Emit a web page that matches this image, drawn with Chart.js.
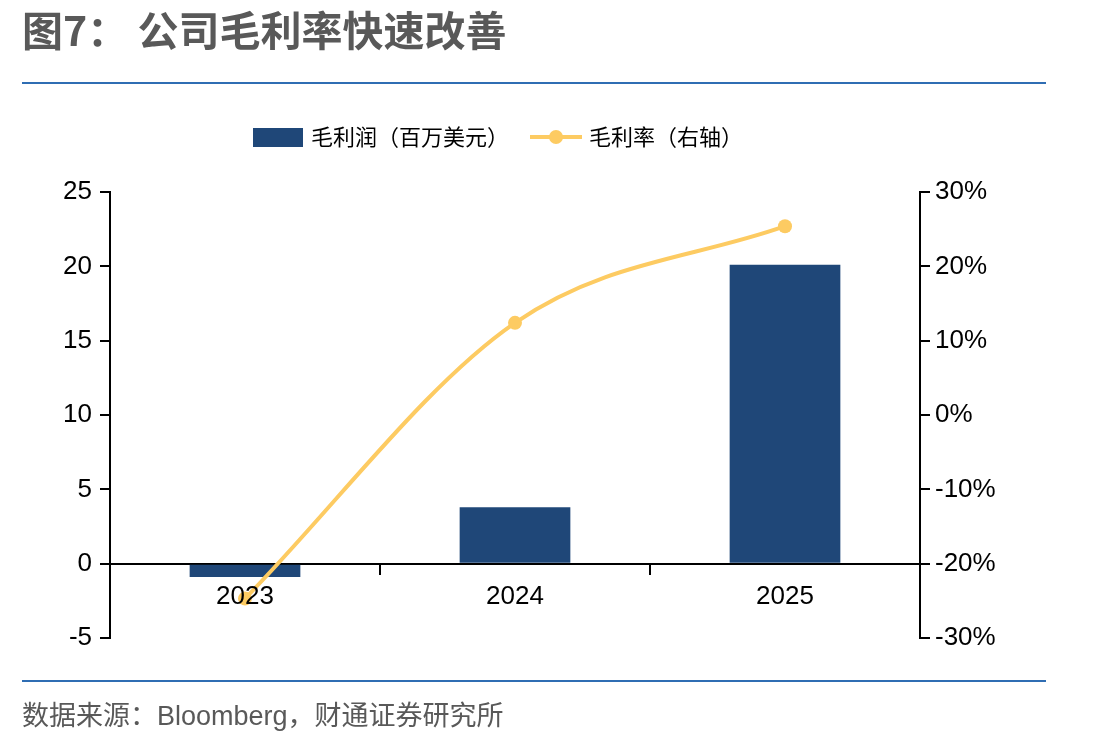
<!DOCTYPE html>
<html>
<head>
<meta charset="utf-8">
<script src="https://cdn.jsdelivr.net/npm/chart.js@4.4.1/dist/chart.umd.min.js"></script>
<style>
  html, body { margin: 0; padding: 0; background: #fff; }
  body { width: 1096px; height: 748px; position: relative; overflow: hidden; font-family: "Noto Sans CJK SC", sans-serif; }
  #title { position: absolute; left: 22px; top: 0; font-size: 41px; font-weight: bold; color: #595959; line-height: 56px; white-space: pre; }
  .rule { position: absolute; left: 22px; width: 1024px; height: 2px; background: #2F6DB3; }
  #src { position: absolute; left: 22px; top: 699px; font-family: "Liberation Sans", "Noto Sans CJK SC", sans-serif; font-size: 27px; color: #595959; line-height: 34px; white-space: pre; }
  #op { position: absolute; left: 0; top: 0; }
</style>
</head>
<body>
<canvas id="op" width="1096" height="748"></canvas>
<div id="title">图7： 公司毛利率快速改善</div>
<div class="rule" style="top:82px"></div>
<div class="rule" style="top:680px"></div>
<div id="src">数据来源：Bloomberg，财通证券研究所</div>
<script>
const years = ['2023', '2024', '2025']
const grossProfit = [-0.9, 3.8, 20.1]      // 毛利润（百万美元）
const grossMargin = [-24.7, 12.4, 25.4]    // 毛利率（右轴）, %
const leftTicks = [-5, 25, 5]              // min, max, step
const rightTicks = [-30, 30, 10]

const barColor = '#1F4778'
const lineColor = '#FDCB62'
const tickFont = { family: 'Liberation Sans', size: 26 }

// legend swatches
function barSwatch() {
  const c = document.createElement('canvas')
  c.width = 50; c.height = 19
  const x = c.getContext('2d')
  x.fillStyle = barColor
  x.fillRect(0, 0, 50, 19)
  return c
}
function lineSwatch() {
  const c = document.createElement('canvas')
  c.width = 52; c.height = 16
  const x = c.getContext('2d')
  x.strokeStyle = lineColor; x.lineWidth = 4
  x.beginPath(); x.moveTo(0, 8); x.lineTo(52, 8); x.stroke()
  x.fillStyle = lineColor
  x.beginPath(); x.arc(26, 8, 7, 0, Math.PI * 2); x.fill()
  return c
}
const swatches = [barSwatch(), lineSwatch()]

const legendGap = {
  id: 'legendGap',
  beforeInit(chart) {
    const fit = chart.legend.fit
    chart.legend.fit = function () { fit.call(this); this.height += 34 }
  }
}

new Chart(
  document.getElementById('op'),
  {
    data: {
      labels: years,
      datasets: [{
        type: 'bar',
        label: '毛利润（百万美元）',
        data: grossProfit,
        backgroundColor: barColor,
        yAxisID: 'y',
        order: 1,
        categoryPercentage: 1,
        barPercentage: 0.41
      }, {
        type: 'line',
        label: '毛利率（右轴）',
        data: grossMargin,
        borderColor: lineColor,
        backgroundColor: lineColor,
        borderWidth: 4,
        pointRadius: 7,
        pointBorderWidth: 0,
        cubicInterpolationMode: 'monotone',
        yAxisID: 'y1',
        order: 0
      }]
    },
    options: {
      responsive: false,
      animation: false,
      layout: { padding: { top: 101, left: 0, right: 97, bottom: 110 } },
      plugins: {
        tooltip: { enabled: false },
        legend: {
          position: 'top',
          labels: {
            usePointStyle: true,
            pointStyleWidth: 44,
            boxHeight: 19,
            padding: 25,
            color: '#000',
            font: { family: 'Noto Sans CJK SC', size: 22 },
            generateLabels: (chart) => chart.data.datasets.map((ds, i) => ({
              text: ds.label,
              pointStyle: swatches[i],
              fillStyle: ds.backgroundColor,
              strokeStyle: ds.backgroundColor,
              lineWidth: 0,
              hidden: false,
              datasetIndex: i
            }))
          }
        }
      },
      scales: {
        x: {
          position: { y: 0 },
          offset: true,
          grid: { offset: true, drawOnChartArea: false, drawTicks: true, tickLength: 10, color: '#000', lineWidth: 2 },
          border: { display: true, color: '#000', width: 2 },
          ticks: { color: '#000', font: tickFont, padding: 8, z: 1 }
        },
        y: {
          position: 'left',
          min: leftTicks[0], max: leftTicks[1],
          afterFit: (s) => { s.width = 110 },
          grid: { drawOnChartArea: false, tickLength: 10, color: '#000', lineWidth: 2 },
          border: { display: true, color: '#000', width: 2 },
          ticks: { stepSize: leftTicks[2], color: '#000', font: tickFont, padding: 8 }
        },
        y1: {
          position: 'right',
          min: rightTicks[0], max: rightTicks[1],
          afterFit: (s) => { s.width = 79 },
          grid: { drawOnChartArea: false, tickLength: 10, color: '#000', lineWidth: 2 },
          border: { display: true, color: '#000', width: 2 },
          ticks: { stepSize: rightTicks[2], color: '#000', font: tickFont, padding: 5, callback: (v) => v + '%' }
        }
      }
    },
    plugins: [legendGap]
  }
)
</script>
</body>
</html>
